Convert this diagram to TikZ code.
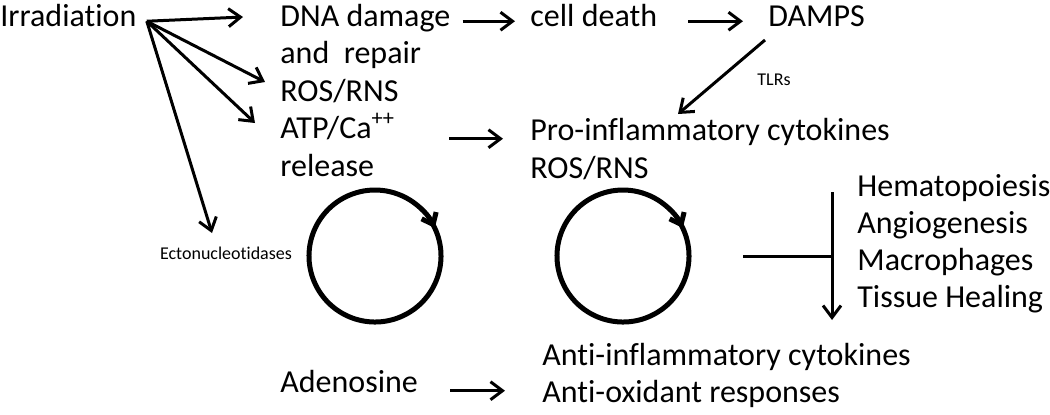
\documentclass[tikz,border=0pt]{standalone}
\usepackage{fontspec}
\setmainfont{Carlito}[Ligatures=NoCommon]
\usetikzlibrary{arrows.meta,positioning}

\begin{document}
\begin{tikzpicture}[x=0.5pt,y=-0.5pt,>={Straight Barb[length=6pt,width=9pt]}]
        \tikzset{txt/.style={inner sep=0pt,anchor=base west,font=\fontsize{16}{19}\selectfont},
        smalltxt/.style={inner sep=0pt,font=\fontsize{9}{11}\selectfont},
        link/.style={->,line width=1.5pt},
        loopline/.style={->,line width=2.5pt,>={Straight Barb[length=5pt,width=8pt]}}
        }
        \useasboundingbox (0,0) rectangle (1050,414);

%% text
        \node[txt] (irr) at (0,26) {Irradiation};
        \node[txt] (dna) at (280,26) {DNA damage};
        \node[txt] (repair) at ([yshift=-18.75pt]dna.base west) {and\ \ repair};
        \node[txt] (ros) at ([yshift=-18.75pt]repair.base west) {ROS/RNS};
        \node[txt] (atp) at ([yshift=-18.75pt]ros.base west) {ATP/Ca\textsuperscript{++}};
        \node[txt] (release) at ([yshift=-18.75pt]atp.base west) {release};
        \node[txt] (death) at (530,26) {cell death};
        \node[txt] (damps) at (768,26) {DAMPS};
        \node[smalltxt] (tlr) at (774,80) {TLRs};
        \node[txt] (pro) at (530,140) {Pro-inflammatory cytokines};
        \node[txt] (ros2) at ([yshift=-19pt]pro.base west) {ROS/RNS};
        \node[smalltxt] (ecto) at (226,253) {Ectonucleotidases};
        \node[txt] (hema) at (857,196) {Hematopoiesis};
        \node[txt] (angio) at ([yshift=-18.5pt]hema.base west) {Angiogenesis};
        \node[txt] (macro) at ([yshift=-18.5pt]angio.base west) {Macrophages};
        \node[txt] (tissue) at ([yshift=-18.5pt]macro.base west) {Tissue Healing};
        \node[txt] (aden) at (280,392) {Adenosine};
        \node[txt] (anti) at (542,365) {Anti-inflammatory cytokines};
        \node[txt] (antiox) at ([yshift=-18.75pt]anti.base west) {Anti-oxidant responses};

%% free ends
        \coordinate (hub) at ([xshift=5pt]irr.mid east);
        \coordinate (toDna) at (243,17);
        \coordinate (toRos) at (265,82);
        \coordinate (toAtp) at (255,123);
        \coordinate (toEcto) at (212,233);
        \coordinate (dampsOut) at (765,40);
        \coordinate (toPro) at (678,114);
        \coordinate (atpOut) at ([xshift=27pt,yshift=-2.5pt]atp.mid east);
        \coordinate (adenOut) at ([xshift=16pt,yshift=-1.75pt]aden.mid east);
        \coordinate (cycA) at (375,256);
        \coordinate (cycB) at (623,256);
        \coordinate (barL) at (743,256);
        \coordinate (barT) at (832,192);
        \coordinate (barB) at (832,320);

%% paths
        \path[draw,link] (hub) -- (toDna);
        \path[draw,link] (hub) -- (toRos);
        \path[draw,link] (hub) -- (toAtp);
        \path[draw,link] (hub) -- (toEcto);
        \path[draw,link] ([xshift=6pt]dna.mid east) -- ([xshift=-7.5pt]death.mid west);
        \path[draw,link] ([xshift=15.5pt]death.mid east) -- ([xshift=-12.5pt]damps.mid west);
        \path[draw,link] (dampsOut) -- (toPro);
        \path[draw,link] (atpOut) -- ([xshift=-13.5pt]pro.west |- atpOut);
        \path[draw,link] (adenOut) -- ([xshift=-18.5pt]anti.west |- adenOut);
        \draw[line width=1.5pt] (barL) -- (barL -| barT);
        \path[draw,link] (barT) -- (barB);

%% cycles
        \draw[loopline] ([shift={(-28:66)}]cycA) arc[start angle=-28,end angle=335,radius=66];
        \draw[loopline] ([shift={(-28:66)}]cycB) arc[start angle=-28,end angle=335,radius=66];
\end{tikzpicture}
\end{document}
